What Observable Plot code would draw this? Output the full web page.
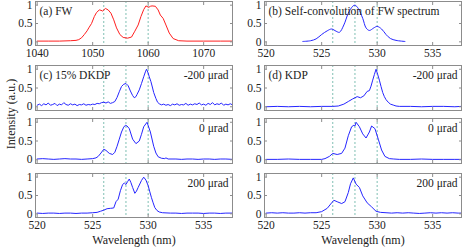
<!DOCTYPE html>
<html><head><meta charset="utf-8">
<script src="https://cdn.jsdelivr.net/npm/d3@7"></script>
<script src="https://cdn.jsdelivr.net/npm/@observablehq/plot@0.6"></script>
<style>
body{margin:0;background:#fff}
#c{position:relative;width:463px;height:247px;overflow:hidden;font-family:"Liberation Serif","Times New Roman",serif;color:#222}
#c > svg{position:absolute}
#c svg, #c svg text{font-family:"Liberation Serif","Times New Roman",serif !important}
#ylab{position:absolute;left:11px;top:114px;font-size:12px;white-space:nowrap;transform:translate(-50%,-50%) rotate(-90deg)}
</style></head><body><div id="c"><div id="ylab">Intensity (a.u.)</div></div>
<script>
// ---- data (wavelength nm, normalized intensity) ----
const shTicks = [520, 525, 530, 535];
const fwTicks = [1040, 1050, 1060, 1070];
const yTicks = [0, 0.5, 1];
const shGuides = [526, 528, 530];
const fwGuides = [1052, 1056, 1060];

const fwSpectrum = [[1040,0.02],[1042,0.02],[1044,0.02],[1046,0.03],[1047,0.04],[1047.5,0.06],[1048,0.11],[1048.5,0.2],[1049,0.3],[1049.3,0.38],[1049.8,0.5],[1050.3,0.69],[1050.7,0.8],[1051.2,0.87],[1051.5,0.86],[1051.8,0.84],[1052.3,0.91],[1052.8,0.87],[1053.3,0.78],[1053.8,0.6],[1054.3,0.38],[1054.9,0.2],[1055.5,0.12],[1056.3,0.1],[1057,0.13],[1057.6,0.29],[1058.2,0.46],[1058.7,0.69],[1059.2,0.88],[1059.6,0.98],[1060.1,0.94],[1060.4,0.97],[1060.7,0.98],[1061.3,0.97],[1061.8,0.87],[1062.2,0.73],[1062.7,0.64],[1063.2,0.46],[1063.8,0.24],[1064.5,0.09],[1065.5,0.03],[1067,0.02],[1070,0.02],[1073,0.02],[1075.6,0.02]];

const selfConv = [[523.3,0.01],[524,0.03],[524.5,0.08],[525,0.2],[525.5,0.3],[525.9,0.35],[526.3,0.29],[526.6,0.26],[527,0.46],[527.4,0.78],[527.8,0.97],[528,1.0],[528.3,0.91],[528.7,0.64],[529,0.38],[529.3,0.31],[529.7,0.38],[530,0.42],[530.4,0.35],[530.8,0.2],[531.2,0.09],[531.7,0.04],[532.5,0.01]];

const dkdpM200 = [[520,0.04],[520.2,0.07],[520.4,0.03],[520.6,0.08],[520.8,0.05],[521,0.1],[521.2,0.04],[521.4,0.06],[521.6,0.09],[521.8,0.03],[522,0.07],[522.2,0.05],[522.4,0.11],[522.6,0.06],[522.8,0.04],[523,0.08],[523.2,0.05],[523.4,0.07],[523.6,0.03],[523.8,0.06],[524,0.05],[524.2,0.08],[524.4,0.04],[524.6,0.06],[524.8,0.05],[525,0.07],[525.2,0.06],[525.4,0.09],[525.6,0.08],[525.8,0.11],[526,0.12],[526.2,0.1],[526.4,0.13],[526.6,0.09],[526.8,0.11],[527,0.14],[527.2,0.25],[527.4,0.4],[527.6,0.54],[527.8,0.6],[528,0.62],[528.2,0.56],[528.4,0.42],[528.6,0.3],[528.75,0.24],[528.9,0.27],[529,0.33],[529.2,0.45],[529.4,0.62],[529.6,0.8],[529.75,0.93],[529.85,1.0],[530,0.9],[530.1,0.8],[530.25,0.67],[530.4,0.5],[530.5,0.38],[530.7,0.22],[530.85,0.12],[531,0.08],[531.2,0.05],[531.4,0.07],[531.6,0.04],[531.8,0.06],[532,0.03],[532.2,0.07],[532.4,0.05],[532.6,0.08],[532.8,0.04],[533,0.06],[533.2,0.05],[533.4,0.09],[533.6,0.04],[533.8,0.07],[534,0.05],[534.2,0.08],[534.4,0.06],[534.6,0.1],[534.8,0.05],[535,0.07],[535.2,0.04],[535.4,0.09],[535.6,0.06],[535.8,0.11],[536,0.05],[536.2,0.08],[536.4,0.06],[536.6,0.1],[536.8,0.04],[537,0.07],[537.2,0.05],[537.4,0.08],[537.6,0.05]];

const dkdp0 = [[520,0.02],[520.5,0.03],[521,0.02],[521.5,0.01],[522,0.02],[522.5,0.03],[523,0.02],[523.5,0.02],[524,0.01],[524.5,0.02],[525,0.03],[525.3,0.05],[525.5,0.09],[525.75,0.18],[526,0.28],[526.2,0.25],[526.5,0.17],[526.8,0.14],[527,0.2],[527.2,0.36],[527.4,0.55],[527.6,0.74],[527.8,0.87],[527.95,0.92],[528.1,0.9],[528.3,0.83],[528.6,0.55],[528.9,0.43],[529.2,0.5],[529.4,0.68],[529.6,0.88],[529.9,1.0],[530.2,0.74],[530.5,0.36],[530.7,0.18],[530.9,0.08],[531.2,0.04],[531.5,0.03],[531.6,0.05],[531.8,0.02],[532.5,0.02],[533,0.01],[533.5,0.02],[534,0.02],[534.5,0.01],[535,0.02],[535.5,0.02],[536,0.01],[536.5,0.02],[537,0.02],[537.6,0.01]];

const dkdpP200 = [[520,0.02],[520.5,0.01],[521,0.02],[521.5,0.02],[522,0.01],[522.5,0.02],[523,0.02],[523.5,0.01],[524,0.02],[524.5,0.02],[525,0.03],[525.4,0.04],[525.7,0.07],[526,0.1],[526.3,0.14],[526.6,0.15],[526.9,0.16],[527.1,0.33],[527.3,0.4],[527.5,0.63],[527.7,0.8],[527.85,0.84],[528,0.8],[528.15,0.88],[528.3,0.95],[528.45,0.85],[528.6,0.72],[528.8,0.56],[528.95,0.62],[529.1,0.72],[529.4,0.91],[529.6,1.0],[529.8,0.92],[530,0.77],[530.15,0.6],[530.3,0.44],[530.45,0.3],[530.6,0.17],[530.8,0.09],[531,0.05],[531.3,0.03],[532,0.02],[532.5,0.02],[533,0.01],[533.5,0.02],[534,0.02],[534.5,0.02],[535,0.01],[535.5,0.02],[536,0.02],[536.5,0.01],[537,0.02],[537.6,0.02]];

const kdpM200 = [[520,0.0],[521,0.01],[522,0.0],[523,0.01],[524,0.0],[525,0.01],[526,0.01],[526.5,0.02],[527,0.07],[527.4,0.14],[527.8,0.21],[528.2,0.27],[528.5,0.24],[528.8,0.29],[529.1,0.41],[529.3,0.43],[529.45,0.55],[529.6,0.71],[529.75,0.86],[529.9,1.0],[530.05,0.86],[530.2,0.71],[530.35,0.54],[530.5,0.38],[530.65,0.27],[530.8,0.19],[531,0.12],[531.2,0.07],[531.5,0.04],[531.7,0.02],[532,0.01],[533,0.01],[534,0.0],[535,0.01],[536,0.01],[537,0.0],[537.6,0.01]];

const kdp0 = [[520,0.01],[521,0.01],[522,0.02],[523,0.01],[524,0.01],[525,0.01],[525.3,0.03],[525.7,0.09],[526,0.17],[526.4,0.14],[526.8,0.17],[527.1,0.31],[527.4,0.64],[527.7,0.88],[527.9,0.92],[528,0.9],[528.1,1.0],[528.4,0.88],[528.7,0.69],[529,0.58],[529.3,0.74],[529.5,0.9],[529.8,0.83],[530.1,0.55],[530.4,0.26],[530.7,0.09],[531.1,0.03],[531.5,0.02],[532,0.01],[533,0.01],[534,0.02],[535,0.01],[536,0.01],[537,0.01],[537.6,0.01]];

const kdpP200 = [[520,0.02],[520.5,0.03],[521,0.02],[521.5,0.03],[522,0.02],[522.5,0.02],[523,0.03],[523.5,0.02],[524,0.03],[524.5,0.03],[525,0.06],[525.5,0.15],[525.9,0.3],[526.1,0.37],[526.4,0.33],[526.8,0.28],[527.1,0.33],[527.4,0.58],[527.6,0.82],[527.85,0.98],[528.1,0.81],[528.4,0.72],[528.7,0.49],[529.1,0.3],[529.5,0.19],[529.9,0.07],[530.3,0.04],[530.8,0.03],[531.3,0.02],[531.8,0.03],[532.3,0.02],[532.8,0.03],[533.3,0.02],[533.8,0.01],[534.3,0.02],[534.8,0.03],[535.3,0.02],[535.8,0.03],[536.3,0.02],[536.8,0.03],[537.3,0.02],[537.6,0.02]];

const panelTags = ["(a) FW", "(b) Self-convolution of FW spectrum", "(c) 15% DKDP", "(d) KDP"];
const angleLabels = ["-200 μrad", "0 μrad", "200 μrad"];
const xAxisTitle = "Wavelength (nm)";

// ---- layout / style ----
const FONT = '"Liberation Serif","Times New Roman",serif';
const RED = "#ff1f1f", BLUE = "#2626ff", GUIDE = "#5fae9f", FRAME = "#8c8c8c", TXT = "#222";
const rows = [{top:1,bot:45},{top:65,bot:110},{top:118,bot:163},{top:173,bot:217}];
const cols = [{left:0,width:240,ml:35,mr:8},{left:232,width:231,ml:32,mr:2}];
const SH_DOMAIN = [519.85, 537.6], FW_DOMAIN = [1039.7, 1075.2];

const root = document.getElementById("c");
const fmt = d => String(d);

function panel(ci, ri, o) {
  const col = cols[ci], row = rows[ri];
  const mt = 4, mb = o.wavelength ? 32 : 16;
  const h = mt + (row.bot - row.top) + mb;
  const marks = [
    Plot.ruleX(o.guides, {x: d => d, stroke: GUIDE, strokeWidth: 0.8, strokeDasharray: "2,2"}),
    Plot.line(o.series, {x: d => d[0], y: d => d[1], stroke: o.color, strokeWidth: 1, curve: o.smooth ? "catmull-rom" : "linear", clip: true}),
    Plot.frame({stroke: FRAME, strokeWidth: 1}),
    Plot.axisY(yTicks, {anchor: "left", tickSize: 0, tickPadding: 3, tickFormat: fmt, fill: TXT, label: null}),
    Plot.axisY(yTicks, {anchor: "left", tickSize: 3, dx: 3, tickFormat: () => "", stroke: FRAME, label: null}),
    Plot.axisY(yTicks, {anchor: "right", tickSize: 3, dx: -3, tickFormat: () => "", stroke: FRAME, label: null}),
    Plot.axisX(o.ticks, {anchor: "bottom", tickSize: 3, dy: -3, tickFormat: () => "", stroke: FRAME, label: null}),
    Plot.axisX(o.ticks, {anchor: "top", tickSize: 3, dy: 3, tickFormat: () => "", stroke: FRAME, label: null}),
    Plot.text([o.tag], {frameAnchor: "top-left", textAnchor: "start", lineAnchor: "top", dx: 4, dy: 5, fill: TXT, fontSize: 11.5})
  ];
  if (o.right) marks.push(Plot.text([o.right], {frameAnchor: "top-right", textAnchor: "end", lineAnchor: "top", dx: -4, dy: 5, fill: TXT, fontSize: 11.5}));
  if (o.xlabels) marks.push(Plot.axisX(o.ticks, {anchor: "bottom", tickSize: 0, tickPadding: 3, tickFormat: fmt, fill: TXT, label: null}));
  if (o.wavelength) marks.push(Plot.text([xAxisTitle], {frameAnchor: "bottom", lineAnchor: "middle", dy: 23, fill: TXT, fontSize: 12}));
  const svg = Plot.plot({
    width: col.width, height: h,
    marginLeft: col.ml, marginRight: col.mr, marginTop: mt, marginBottom: mb,
    style: `background:transparent;overflow:visible;font-family:${FONT};font-size:11.5px;color:${TXT}`,
    x: {domain: o.domain},
    y: {domain: [-0.1, 1.1]},
    marks
  });
  svg.style.left = col.left + "px";
  svg.style.top = (row.top - mt) + "px";
  root.appendChild(svg);
}

panel(0, 0, {series: fwSpectrum, color: RED, domain: FW_DOMAIN, ticks: fwTicks, guides: fwGuides, tag: panelTags[0], xlabels: true});
panel(1, 0, {series: selfConv, color: BLUE, domain: SH_DOMAIN, ticks: shTicks, guides: shGuides, tag: panelTags[1], xlabels: true, smooth: true});
panel(0, 1, {series: dkdpM200, color: BLUE, domain: SH_DOMAIN, ticks: shTicks, guides: shGuides, tag: panelTags[2], right: angleLabels[0]});
panel(1, 1, {series: kdpM200, color: BLUE, domain: SH_DOMAIN, ticks: shTicks, guides: shGuides, tag: panelTags[3], right: angleLabels[0]});
panel(0, 2, {series: dkdp0, color: BLUE, domain: SH_DOMAIN, ticks: shTicks, guides: shGuides, tag: "", right: angleLabels[1]});
panel(1, 2, {series: kdp0, color: BLUE, domain: SH_DOMAIN, ticks: shTicks, guides: shGuides, tag: "", right: angleLabels[1]});
panel(0, 3, {series: dkdpP200, color: BLUE, domain: SH_DOMAIN, ticks: shTicks, guides: shGuides, tag: "", right: angleLabels[2], xlabels: true, wavelength: true});
panel(1, 3, {series: kdpP200, color: BLUE, domain: SH_DOMAIN, ticks: shTicks, guides: shGuides, tag: "", right: angleLabels[2], xlabels: true, wavelength: true});
</script></body></html>
